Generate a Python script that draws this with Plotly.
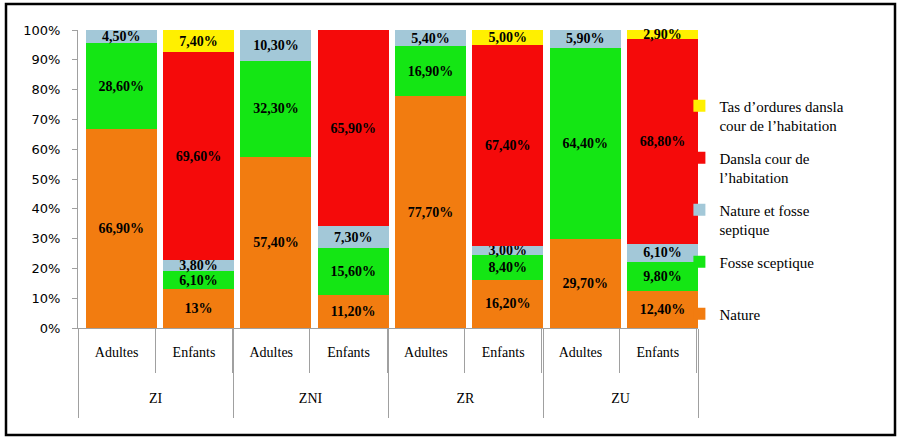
import plotly.graph_objects as go

zones = ["ZI", "ZI", "ZNI", "ZNI", "ZR", "ZR", "ZU", "ZU"]
groups = ["Adultes", "Enfants"] * 4
zone_labels = ["ZI", "ZNI", "ZR", "ZU"]

nature = [66.9, 13.0, 57.4, 11.2, 77.7, 16.2, 29.7, 12.4]
fosse = [28.6, 6.1, 32.3, 15.6, 16.9, 8.4, 64.4, 9.8]
nature_fosse = [4.5, 3.8, 10.3, 7.3, 5.4, 3.0, 5.9, 6.1]
cour = [0, 69.6, 0, 65.9, 0, 67.4, 0, 68.8]
tas = [0, 7.4, 0, 0, 0, 5.0, 0, 2.9]

names = [
    "Nature",
    "Fosse sceptique<br>\u00a0",
    "Nature et fosse<br>septique",
    "Dansla cour de<br>l’habitation",
    "Tas d’ordures dansla<br>cour de l’habitation",
]
colors = ["#F27C10", "#14E614", "#A3C8D8", "#F50A0A", "#FFF000"]
series = [nature, fosse, nature_fosse, cour, tas]
ranks = [5, 4, 3, 2, 1]

cats = [f"{z} {g}" for z, g in zip(zones, groups)]
zone_pos = [k + 0.5 for k in range(len(zone_labels))]

BAR_W = 0.92
BAR_OFFSET = -0.40  # bars sit slightly right of their slot, as in the reference


def fmt(v):
    if v == 0:
        return ""
    if v == 13.0:
        return "<b>13%</b>"
    return "<b>" + ("%.2f" % v).replace(".", ",") + "%</b>"


fig = go.Figure()
for i, (nm, col, vals) in enumerate(zip(names, colors, series)):
    fig.add_trace(go.Bar(
        x=cats, y=vals, name=nm,
        width=BAR_W, offset=BAR_OFFSET,
        marker=dict(color=col, line=dict(width=0)),
        text=[fmt(v) for v in vals], textposition="inside",
        insidetextanchor="middle", textangle=0,
        textfont=dict(family="Liberation Serif", size=14, color="black"),
        cliponaxis=False, constraintext="none",
        legendgroup=f"g{i}", legendrank=ranks[i],
        hoverinfo="skip",
    ))

# invisible trace so the zone axis is drawn
fig.add_trace(go.Scatter(
    x=zone_pos, y=[None] * len(zone_pos), xaxis="x2", yaxis="y",
    mode="markers", showlegend=False, hoverinfo="skip",
))

fig.update_layout(
    barmode="stack",
    width=897, height=438,
    margin=dict(l=78, r=199, t=30, b=110),
    paper_bgcolor="white", plot_bgcolor="white",
    showlegend=True,
    legend=dict(
        x=0.97, y=0.8, xanchor="left", yanchor="top",
        traceorder="grouped", tracegroupgap=10, valign="top",
        font=dict(family="Liberation Serif", size=15, color="black"),
        itemwidth=30, bgcolor="rgba(0,0,0,0)",
    ),
    xaxis=dict(
        type="category", categoryorder="array", categoryarray=cats,
        tickmode="array", tickvals=cats, ticktext=groups,
        showline=True, linecolor="#A0A0A0", linewidth=1,
        ticks="outside", ticklen=44, tickcolor="#A0A0A0", tickson="boundaries",
        ticklabelstandoff=11,
        tickfont=dict(family="Liberation Serif", size=14, color="black"),
        showgrid=False,
    ),
    xaxis2=dict(
        overlaying="x", anchor="y", side="bottom", type="linear",
        range=[0, len(zone_labels)], showline=False, showgrid=False, zeroline=False,
        tickmode="array", tickvals=zone_pos,
        ticktext=zone_labels, ticks="",
        minor=dict(tickmode="array", tickvals=list(range(len(zone_labels) + 1)),
                   ticks="outside", ticklen=89, tickcolor="#A0A0A0", showgrid=False),
        ticklabelstandoff=60,
        tickfont=dict(family="Liberation Serif", size=14, color="black"),
    ),
    yaxis=dict(
        range=[0, 100.001], tickvals=list(range(0, 101, 10)),
        ticktext=[f"{v}%" for v in range(0, 101, 10)],
        showline=True, linecolor="#A0A0A0", linewidth=1,
        ticks="outside", ticklen=5, tickcolor="#A0A0A0",
        ticklabelstandoff=9,
        showgrid=False, zeroline=False,
        tickfont=dict(family="DejaVu Sans", size=13, color="black"),
    ),
    shapes=[dict(
        type="rect", xref="paper", yref="paper",
        x0=(6 - 78) / 620, x1=(895 - 78) / 620,
        y0=(328 - 435) / 298, y1=(328 - 4) / 298,
        line=dict(color="black", width=2.5), layer="above",
    )],
)

fig.write_html("out.html", config={"displayModeBar": False},
               post_script="document.body.style.margin='0';")
